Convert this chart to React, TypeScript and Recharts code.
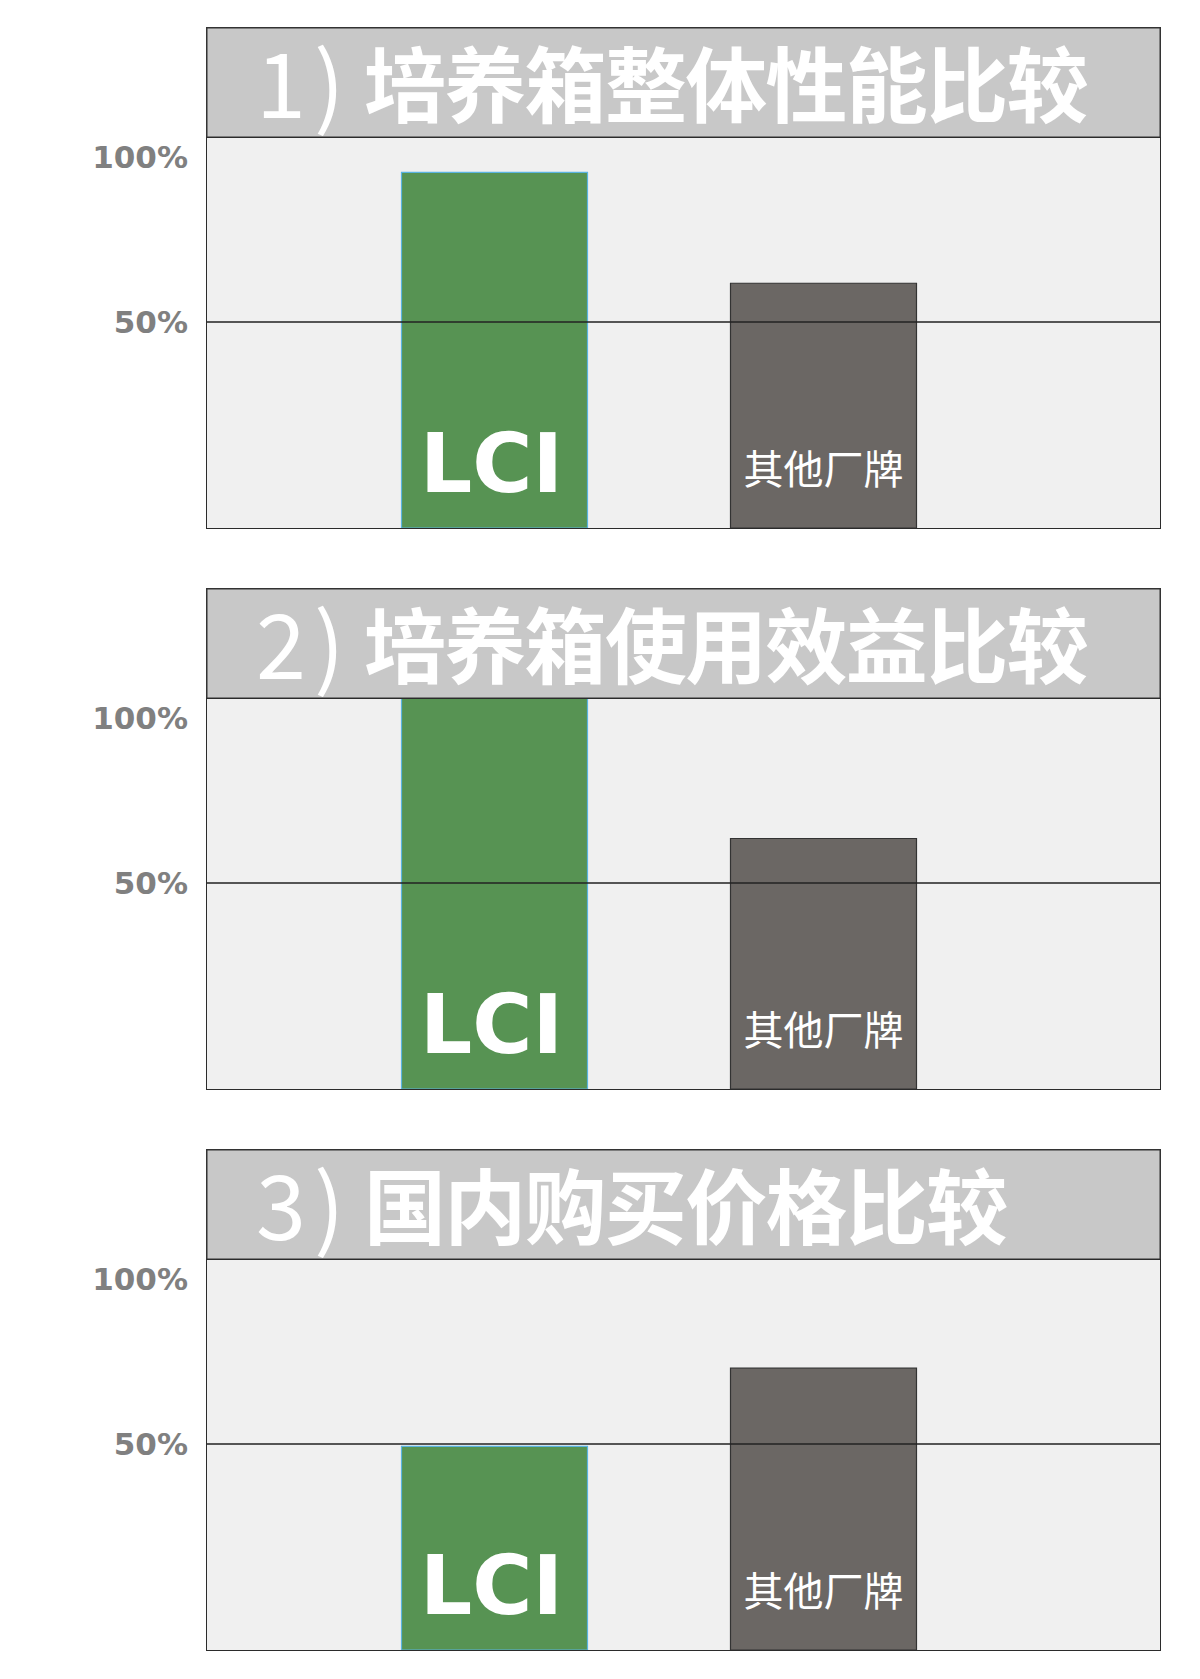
import { BarChart, Bar, XAxis, YAxis, ReferenceLine, Cell, LabelList } from 'recharts'

const brands = ['LCI', '其他厂牌']
const titleNums = ['1)', '2)', '3)']
const titleTexts = ['培养箱整体性能比较', '培养箱使用效益比较', '国内购买价格比较']
const performance = [86.3, 59.4]
const efficiency = [95.4, 60.8]
const price = [49.4, 68.4]
const yTicks = [50, 90]
const yTickLabels = ['50%', '100%']

const series = [performance, efficiency, price]
const barColors = ['#579353', '#6b6764']
const barStrokes = ['#5ab4e0', '#333333']

// space kept above the title bar so the tall title glyph boxes fit inside the svg
const PAD = 24

const BarLabel = (props: any) => {
  const { x, y, width, height, value } = props
  const cx = Number(x) + Number(width) / 2
  const bottom = Number(y) + Number(height)
  if (value === 'LCI') {
    return (
      <text x={cx - 3} y={bottom - 36} textAnchor="middle" fill="#fff"
        fontFamily="'DejaVu Sans', Verdana, sans-serif" fontWeight={700} fontSize={82}>
        {value}
      </text>
    )
  }
  return (
    <text x={cx} y={bottom - 44} textAnchor="middle" fill="#fff"
      fontFamily="'Noto Sans CJK SC', sans-serif" fontWeight={400} fontSize={40}>
      {value}
    </text>
  )
}

function Panel({ index }: { index: number }) {
  const data = brands.map((name, i) => ({ name, value: series[index][i] }))
  const title = titleTexts[index]
  return (
    <div style={{ position: 'absolute', left: 0, top: 19 + 561 * index, width: 1170, height: 520 }}>
      <div style={{ position: 'absolute', left: 0, top: 110 }}>
        <BarChart width={1170} height={396} data={data} margin={{ top: 0, right: 18, bottom: 5, left: 0 }}>
          <rect x={198} y={0} width={954} height={391} fill="#f0f0f0" />
          <XAxis dataKey="name" hide padding={{ left: 123.5, right: 172.5 }} />
          <YAxis
            width={198}
            domain={[0, 94.9]}
            allowDataOverflow
            ticks={yTicks}
            interval={0}
            tickFormatter={(_v: number, i: number) => yTickLabels[i]}
            axisLine={false}
            tickLine={false}
            tickSize={0}
            tickMargin={18}
            tick={{ fill: '#808080', fontSize: 31, fontWeight: 700, fontFamily: "'DejaVu Sans', Verdana, sans-serif" }}
          />
          <ReferenceLine y={50} stroke="#222" strokeWidth={1.5} />
          <Bar dataKey="value" barSize={186} isAnimationActive={false}>
            {data.map((_, i) => (
              <Cell key={i} fill={barColors[i]} stroke={barStrokes[i]} strokeWidth={1.2} />
            ))}
            <LabelList dataKey="name" content={BarLabel} />
          </Bar>
        </BarChart>
      </div>
      <svg width={955} height={111 + PAD * 2} style={{ position: 'absolute', left: 198, top: -PAD, pointerEvents: 'none' }}>
        <rect x={0.75} y={PAD + 0.75} width={953.5} height={109.5} fill="#c8c8c8" stroke="#333" strokeWidth={1.5} />
        <text x={50} y={PAD + 91} fill="#fff" fontFamily="'Noto Sans CJK SC', sans-serif" fontWeight={400}
          fontSize={90} letterSpacing={8}>
          {titleNums[index]}
        </text>
        <text x={158} y={PAD + 89} fill="#fff" fontFamily="'Noto Sans CJK SC', sans-serif" fontWeight={700}
          fontSize={82} textLength={title.length * 80.5} lengthAdjust="spacing">
          {title}
        </text>
      </svg>
      <div style={{
        position: 'absolute', left: 198, top: 110, width: 955, height: 392,
        border: '1.5px solid #2b2b2b', boxSizing: 'border-box', pointerEvents: 'none',
      }} />
    </div>
  )
}

export default function App() {
  return (
    <div style={{ position: 'relative', width: 1184, height: 1660, background: '#fff' }}>
      {series.map((_, i) => (
        <Panel key={i} index={i} />
      ))}
    </div>
  )
}
